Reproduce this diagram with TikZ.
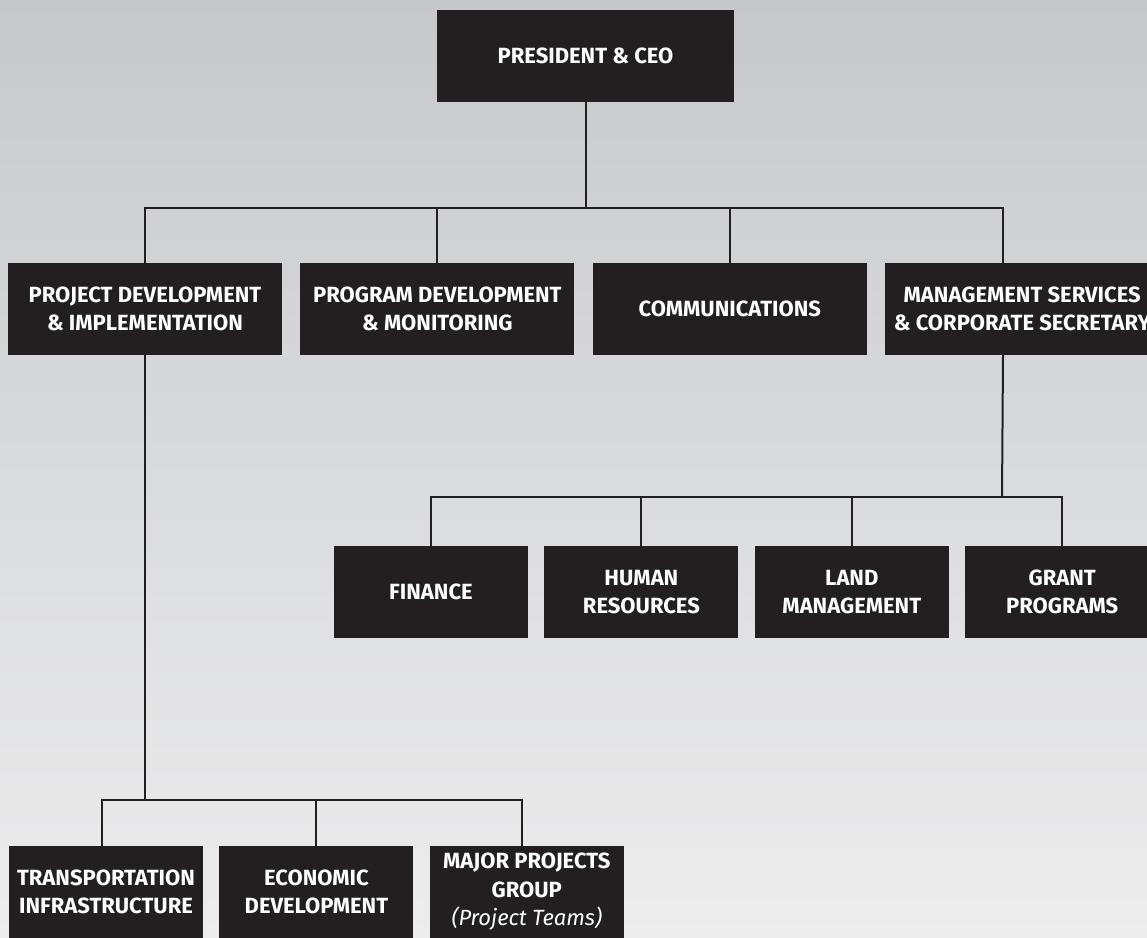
\documentclass[tikz,border=0pt]{standalone}
\usepackage{fontspec}
\setmainfont{Fira Sans}
\usetikzlibrary{positioning,calc}
\definecolor{boxblack}{HTML}{231F20}
\definecolor{bgtop}{HTML}{C6C8CA}
\definecolor{bgbot}{HTML}{EDEDEE}

\begin{document}
\begin{tikzpicture}[x=1pt, y=-1pt,
  unit/.style={fill=boxblack, text=white, inner sep=0pt, minimum height=92pt, align=center,
    font=\fontsize{22}{28.5}\selectfont\bfseries},
  wide/.style={unit, minimum width=274pt},
  narrow/.style={unit, minimum width=194pt},
  conn/.style={draw=boxblack, line width=2pt}]
\useasboundingbox (0,0) rectangle (1147,937);
\shade[top color=bgtop, bottom color=bgbot] (0,0) rectangle (1147,937);

% boxes
\node[unit, minimum width=297pt] (n0) at (585.5,56) {PRESIDENT \& CEO};
\node[wide] (n1) at (145,309) {PROJECT DEVELOPMENT\\\& IMPLEMENTATION};
\node[wide, right=18pt of n1] (n2) {PROGRAM DEVELOPMENT\\\& MONITORING};
\node[wide, right=18pt of n2] (n3) {COMMUNICATIONS};
\node[wide, right=18pt of n3] (n4) {MANAGEMENT SERVICES\\\& CORPORATE SECRETARY};

\node[narrow] (n41) at (431,592) {FINANCE};
\node[narrow, right=16pt of n41] (n42) {HUMAN\\RESOURCES};
\node[narrow, right=16pt of n42] (n43) {LAND\\MANAGEMENT};
\node[narrow, right=16pt of n43] (n44) {GRANT\\PROGRAMS};

\node[narrow] (n11) at (106,892) {TRANSPORTATION\\INFRASTRUCTURE};
\node[narrow, right=16pt of n11] (n12) {ECONOMIC\\DEVELOPMENT};
\node[narrow, right=16pt of n12] (n13) {MAJOR PROJECTS\\GROUP\\{\mdseries\itshape (Project Teams)}};

% connectors
\coordinate (b0) at (n0.south |- 0,208);
\coordinate (b4) at (1002,497);
\coordinate (b1) at (n1.south |- 0,800);
\draw[conn] (n0.south) -- (b0);
\foreach \n in {n1,n2,n3}
  \draw[conn] (b0) -| (\n.north);
\draw[conn] (b0) -| ($(n4.north west)+(118,0)$);
\draw[conn] ($(n4.south west)+(118,0)$) -- (b4);
\foreach \n in {n41,n42,n43,n44}
  \draw[conn] (b4) -| (\n.north);
\draw[conn] (n1.south) -- (b1);
\draw[conn] (b1) -| ([xshift=-4pt]n11.north);
\draw[conn] (b1) -| (n12.north);
\draw[conn] (b1) -| ([xshift=-5pt]n13.north);
\end{tikzpicture}
\end{document}
